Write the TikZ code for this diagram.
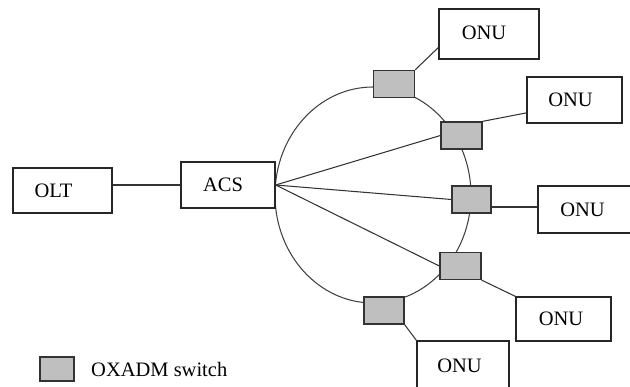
\documentclass[tikz,border=0pt]{standalone}
\usepackage{fontspec}
\setmainfont{Liberation Serif}
\begin{document}
\begin{tikzpicture}[x=1pt,y=-1pt,
  box/.style={draw=black!85,line width=1.3pt,fill=white,inner sep=0pt},
  lbl/.style={font=\fontsize{20.5}{24}\selectfont,inner sep=0pt},
  oxadm/.style={draw=black!80,line width=1.3pt,fill=black!25,minimum width=41pt,minimum height=27pt,inner sep=0pt},
  link/.style={draw=black!80,line width=1.05pt},
  ring/.style={draw=black!75,line width=1.05pt}]
\useasboundingbox (0,0) rectangle (630,387);
\clip (0,0) rectangle (630,387);
% ring
\coordinate (rc) at (373,195);
\draw[ring] (rc) ellipse [x radius=98pt, y radius=108pt];
% main boxes
\node[box,minimum width=99pt,minimum height=45pt,label={[lbl,xshift=-9pt]center:OLT}] (olt) at (62.5,190.5) {};
\node[box,minimum width=94pt,minimum height=46pt,label={[lbl,xshift=-5pt]center:ACS}] (acs) at (228,185) {};
% switches
\node[oxadm] (s1) at (394,84) {};
\node[oxadm] (s2) at (461.5,135.5) {};
\node[oxadm,minimum width=39pt] (s3) at (471.5,199.5) {};
\node[oxadm] (s4) at (460.5,266) {};
\node[oxadm,minimum width=40pt] (s5) at (384,310.5) {};
% ONUs
\node[box,minimum width=100pt,minimum height=50pt,label={[lbl,xshift=-5pt,yshift=1.5pt]center:ONU}] (o1) at (489,34) {};
\node[box,minimum width=95pt,minimum height=46pt,label={[lbl,xshift=-4pt]center:ONU}] (o2) at (574.5,100) {};
\node[box,minimum width=100pt,minimum height=47pt,label={[lbl,xshift=-5.5pt]center:ONU}] (o3) at (588,209.5) {};
\node[box,minimum width=95pt,minimum height=44pt,label={[lbl,xshift=-2.5pt]center:ONU}] (o4) at (563.5,319) {};
\node[box,minimum width=92pt,minimum height=52pt,label={[lbl,xshift=-3.5pt,yshift=1.5pt]center:ONU}] (o5) at (463,367) {};
% connectors
\draw[link] (acs.west) -- (acs.west -| olt.east);
\draw[link] (acs.east) -- (s2.west);
\draw[link] (acs.east) -- (s3.west);
\draw[link] (acs.east) -- (s4.west);
\draw[link] (s1.north east) -- (o1.195);
\draw[link] (s2.north east) -- (o2.195);
\draw[link] (s3.east |- 0,207) -- (o3.west |- 0,207);
\draw[link] (s4.south east) -- (o4.north west);
\draw[link] (s5.south east) -- (o5.north west);
% legend
\node[oxadm,minimum width=34pt,minimum height=24pt] (leg) at (57,369) {};
\node[lbl,anchor=west] (legtxt) at (91,369) {OXADM switch};
\end{tikzpicture}
\end{document}
